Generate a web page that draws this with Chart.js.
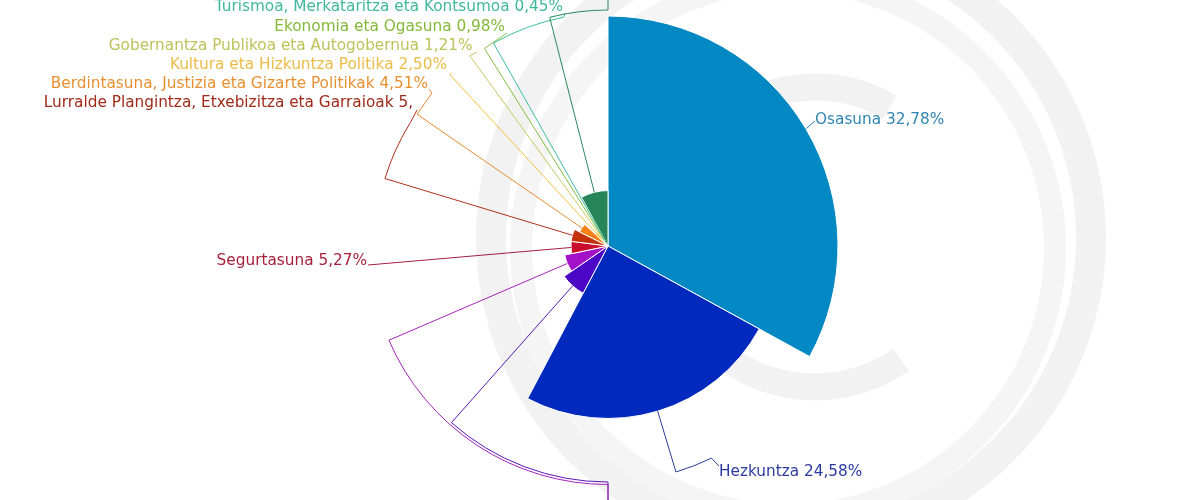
<!DOCTYPE html>
<html>
<head>
<meta charset="utf-8">
<script src="https://cdn.jsdelivr.net/npm/chart.js@4.4.1/dist/chart.umd.min.js"></script>
<style>
html,body{margin:0;padding:0;background:#ffffff;}
#wrap{position:relative;width:1200px;height:500px;}
</style>
</head>
<body>
<div id="wrap"><canvas id="c"></canvas></div>
<script>
// ---- data (clockwise from 12 o'clock) ----
const categories = [
  'Osasuna',
  'Hezkuntza',
  'Lana eta Enplegua',
  'Finantza-zama',
  'Segurtasuna',
  'Lurralde Plangintza, Etxebizitza eta Garraioak',
  'Berdintasuna, Justizia eta Gizarte Politikak',
  'Kultura eta Hizkuntza Politika',
  'Gobernantza Publikoa eta Autogobernua',
  'Ekonomia eta Ogasuna',
  'Turismoa, Merkataritza eta Kontsumoa',
  'Ekonomiaren Garapena, Jasangarritasuna eta Ingurumena'
];
const shares = [32.78, 24.58, 7.6, 6.3, 5.27, 5.3, 4.51, 2.50, 1.21, 0.98, 0.45, 7.9];
const valueLabels = ['32,78%', '24,58%', '', '', '5,27%', '5,', '4,51%', '2,50%', '1,21%', '0,98%', '0,45%', ''];
const showLabel = [true, true, false, false, true, true, true, true, true, true, true, false];

// ---- styles ----
const sliceColors = ['#0289c4', '#0229be', '#4b06c6', '#a312c8', '#c90f2d', '#c2300c',
                     '#f28014', '#f5c02c', '#c9c84e', '#82c141', '#3cc0a0', '#27855a'];
const lineColors  = ['#2a82b4', '#2a3a94', '#5a18b4', '#a424b8', '#a6203e', '#b0301a',
                     '#e88a30', '#f0c040', '#c8c860', '#82c040', '#3dbf9c', '#2a8a5a'];
const labelColors = ['#2f86b2', '#2a3aa0', '#5a18b4', '#a424b8', '#a8203c', '#a02a18',
                     '#e89030', '#ecbc48', '#bdc25a', '#84b83a', '#3fb89c', '#2a8a5a'];

// ---- label / leader layout (relative to the chart centre, px) ----
const leaderLayout = [
  {pts: [[207, -125]], lx: 207, ly: -122, align: 'left'},
  {radial: 236, arcTo: 154, pts: [[111, 220]], lx: 111, ly: 230, align: 'left'},
  {radial: 236, arcTo: 180, pts: [[0, 290]]},
  {radial: 238.5, arcTo: 180, pts: [[0, 290]]},
  {pts: [[-240, 19]], lx: -241, ly: 19, align: 'right'},
  {radial: 233, arcTo: 302, pts: [[-191, -136]], lx: -195, ly: -138.7, align: 'right'},
  {radial: 232, pts: [[-176, -153], [-179, -157]], lx: -180, ly: -157.7, align: 'right'},
  {radial: 232, pts: [[-157, -173]], lx: -161, ly: -176.7, align: 'right'},
  {radial: 235, pts: [[-131, -194]], lx: -135.5, ly: -196, align: 'right'},
  {radial: 233, pts: [[-101, -213]], lx: -103, ly: -215.3, align: 'right'},
  {radial: 233, arcTo: 349, pts: [[-43, -233]], lx: -45, ly: -235, align: 'right'},
  {radial: 236, arcTo: 360, pts: [[0, -270]]}
];
const labelFont = '15.3px "DejaVu Sans"';

const total = shares.reduce((a, b) => a + b, 0);

// background watermark (light logo rings), relative to chart centre
const watermarkPlugin = {
  id: 'watermark',
  beforeDatasetsDraw(chart) {
    const s = chart.scales.r;
    const cx = s.xCenter, cy = s.yCenter;
    const ctx = chart.ctx;
    ctx.save();
    ctx.lineCap = 'butt';
    ctx.strokeStyle = '#f2f2f2';
    ctx.lineWidth = 30;
    ctx.beginPath(); ctx.arc(cx + 183, cy - 8, 300, 0, Math.PI * 2); ctx.stroke();
    ctx.strokeStyle = '#f5f5f5';
    ctx.lineWidth = 22;
    ctx.beginPath(); ctx.arc(cx + 180, cy + 2, 267, 0, Math.PI * 2); ctx.stroke();
    ctx.strokeStyle = '#f2f2f2';
    ctx.lineWidth = 27;
    ctx.beginPath(); ctx.arc(cx + 207, cy - 9, 150, 55 * Math.PI / 180, 300 * Math.PI / 180); ctx.stroke();
    ctx.restore();
  }
};

// leader lines + labels, anchored on the library's arc geometry
const leaderPlugin = {
  id: 'leaders',
  afterDatasetsDraw(chart) {
    const meta = chart.getDatasetMeta(0);
    const s = chart.scales.r;
    const cx = s.xCenter, cy = s.yCenter;
    const ctx = chart.ctx;
    ctx.save();
    ctx.lineWidth = 1;
    ctx.lineJoin = 'miter';
    meta.data.forEach((el, i) => {
      const L = leaderLayout[i];
      if (!L) return;
      const p = el.getProps(['x', 'y', 'startAngle', 'endAngle', 'outerRadius'], true);
      const mid = (p.startAngle + p.endAngle) / 2;
      ctx.strokeStyle = lineColors[i];
      ctx.beginPath();
      ctx.moveTo(p.x + Math.cos(mid) * p.outerRadius, p.y + Math.sin(mid) * p.outerRadius);
      if (L.radial) {
        ctx.lineTo(p.x + Math.cos(mid) * L.radial, p.y + Math.sin(mid) * L.radial);
        if (L.arcTo !== undefined) {
          const endA = (L.arcTo - 90) * Math.PI / 180;
          let m = mid;
          while (endA - m > Math.PI) m += 2 * Math.PI;
          while (m - endA > Math.PI) m -= 2 * Math.PI;
          ctx.arc(p.x, p.y, L.radial, m, endA, endA < m);
        }
      }
      L.pts.forEach(q => ctx.lineTo(cx + q[0], cy + q[1]));
      ctx.stroke();
      if (showLabel[i]) {
        ctx.fillStyle = labelColors[i];
        ctx.font = labelFont;
        ctx.textAlign = L.align;
        ctx.textBaseline = 'alphabetic';
        ctx.fillText(categories[i] + ' ' + valueLabels[i], cx + L.lx, cy + L.ly);
      }
    });
    ctx.restore();
  }
};

new Chart(document.getElementById('c'), {
  type: 'polarArea',
  data: {
    labels: categories,
    datasets: [{
      data: shares,
      backgroundColor: sliceColors,
      borderColor: '#ffffff',
      borderWidth: 1,
      angle: (ctx) => shares[ctx.dataIndex] / total * 360
    }]
  },
  options: {
    responsive: true,
    maintainAspectRatio: false,
    animation: false,
    layout: {padding: {top: 16, bottom: 24, left: 16, right: 0}},
    scales: {
      r: {
        display: false,
        min: 0,
        max: Math.max(...shares),
        startAngle: 0,
        ticks: {display: false},
        grid: {display: false},
        angleLines: {display: false},
        pointLabels: {display: false}
      }
    },
    plugins: {
      legend: {display: false},
      tooltip: {enabled: false}
    }
  },
  plugins: [watermarkPlugin, leaderPlugin]
});
</script>
</body>
</html>
